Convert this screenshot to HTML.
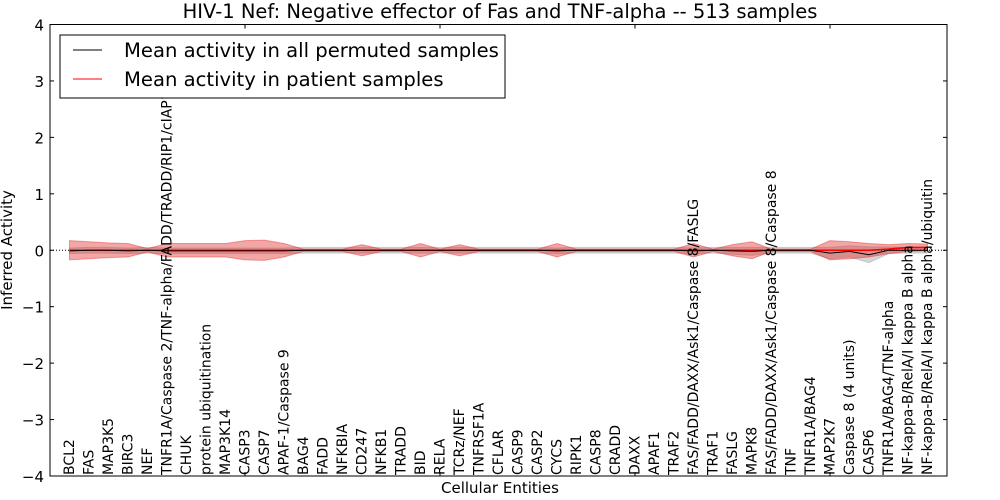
<!DOCTYPE html>
<html><head><meta charset="utf-8"><style>
html,body{margin:0;padding:0;background:#fff;}
svg{display:block;font-family:"DejaVu Sans","Liberation Sans",sans-serif;}
text{font-family:"DejaVu Sans","Liberation Sans",sans-serif;}
</style></head><body>
<svg id="chart" width="1000" height="500" viewBox="0 0 1000 500"></svg>
<script>
const categories=["BCL2","FAS","MAP3K5","BIRC3","NEF","TNFR1A/Caspase 2/TNF-alpha/FADD/TRADD/RIP1/cIAP1/TRAF2","CHUK","protein ubiquitination","MAP3K14","CASP3","CASP7","APAF-1/Caspase 9","BAG4","FADD","NFKBIA","CD247","NFKB1","TRADD","BID","RELA","TCRz/NEF","TNFRSF1A","CFLAR","CASP9","CASP2","CYCS","RIPK1","CASP8","CRADD","DAXX","APAF1","TRAF2","FAS/FADD/DAXX/Ask1/Caspase 8/FASLG","TRAF1","FASLG","MAPK8","FAS/FADD/DAXX/Ask1/Caspase 8/Caspase 8","TNF","TNFR1A/BAG4","MAP2K7","Caspase 8 (4 units)","CASP6","TNFR1A/BAG4/TNF-alpha","NF-kappa-B/RelA/I kappa B alpha","NF-kappa-B/RelA/I kappa B alpha/ubiquitin"];
const patientMean=[0,0,0,0,0,0,0,0,0,0,0,0,0,0,0,0,0,0,0,0,0,0,0,0,0,0,0,0,0,0,0,0,0,0,0,0,0,0,0,0,0,0,0.02,0.05,0.05];
const patientSpread=[0.17,0.15,0.13,0.12,0.03,0.12,0.12,0.12,0.12,0.17,0.18,0.12,0.02,0.02,0.02,0.1,0.02,0.02,0.12,0.02,0.1,0.02,0.02,0.02,0.02,0.12,0.02,0.02,0.02,0.02,0.02,0.02,0.12,0.02,0.1,0.15,0.02,0.02,0.02,0.17,0.15,0.12,0.08,0.07,0.06];
const permMean=[-0.01,0,0,-0.01,0,-0.01,-0.01,-0.01,-0.01,-0.01,-0.01,-0.01,0,0,0,0,0,0,0,0,0,0,0,0,0,-0.01,0,0,0,0,0,0,-0.01,0,-0.01,-0.02,0,0,0,-0.05,-0.02,-0.08,0,0,0];
const permSpread=[0.05,0.05,0.05,0.05,0.05,0.05,0.05,0.05,0.05,0.05,0.05,0.05,0.05,0.05,0.05,0.05,0.05,0.05,0.05,0.05,0.05,0.05,0.05,0.05,0.05,0.05,0.05,0.05,0.05,0.05,0.05,0.05,0.05,0.05,0.06,0.07,0.05,0.05,0.05,0.1,0.1,0.14,0.06,0.05,0.05];
const yTicks=[-4,-3,-2,-1,0,1,2,3,4];
const yTickLabels=["\u22124","\u22123","\u22122","\u22121","0","1","2","3","4"];
const L=50,R=947,T=24.5,B=476;
const X=i=>L+(i+1)*(R-L)/46;
const Y=v=>T+(4-v)*(B-T)/8;
const svg=document.getElementById('chart');
const NS='http://www.w3.org/2000/svg';
function mk(tag,attrs,parent){const e=document.createElementNS(NS,tag);for(const k in attrs)e.setAttribute(k,attrs[k]);(parent||svg).appendChild(e);return e;}
function band(mean,spread,fill,op,name){
  let up=mean.map((m,i)=>X(i)+','+Y(m+spread[i]));
  let dn=mean.map((m,i)=>X(i)+','+Y(m-spread[i])).reverse();
  const p=mk('polygon',{points:up.concat(dn).join(' '),fill:fill,'fill-opacity':op,stroke:fill,'stroke-opacity':op,'stroke-width':1});
  
  
}
function line(mean,col,name,w){
  const p=mk('polyline',{points:mean.map((m,i)=>X(i)+','+Y(m)).join(' '),fill:'none',stroke:col,'stroke-width':w});
  
  
}
band(permMean,permSpread,'#999999',0.4,'permuted-band');
band(patientMean,patientSpread,'#e02020',0.4,'patient-band');
const z=mk('line',{x1:L,x2:R,y1:Y(0),y2:Y(0),stroke:'#000','stroke-width':1,'stroke-dasharray':'1,2'});


line(patientMean,'#ff0000','patient-mean-line',1.6);
line(permMean,'#000','permuted-mean-line',1);
const f=mk('rect',{x:L,y:T,width:R-L,height:B-T,fill:'none',stroke:'#000','stroke-width':1});


yTicks.forEach((v,i)=>{
  const y=Y(v);
  mk('line',{x1:L,x2:L+4,y1:y,y2:y,stroke:'#000'});
  mk('line',{x1:R,x2:R-4,y1:y,y2:y,stroke:'#000'});
  const t=mk('text',{x:L-6,y:y+6,'text-anchor':'end','font-size':15});
  t.textContent=yTickLabels[i];
  
  
});
[0,10,20,30,40].forEach(v=>{
  const x=L+v*(R-L)/46;
  mk('line',{x1:x,x2:x,y1:T,y2:T+4,stroke:'#000'});
  mk('line',{x1:x,x2:x,y1:B,y2:B-4,stroke:'#000'});
});
categories.forEach((c,i)=>{
  const x=X(i)+4.5;
  const t=mk('text',{x:0,y:0,transform:'translate('+x+','+(B-1)+') rotate(-90)','font-size':14});
  t.textContent=c;
  
  
});
</script>
<svg style="position:absolute;left:0;top:0" width="1000" height="500">
<text x="500" y="18" text-anchor="middle" font-size="19.5">HIV-1 Nef: Negative effector of Fas and TNF-alpha -- 513 samples</text>
<text x="500" y="493" text-anchor="middle" font-size="15">Cellular Entities</text>
<text transform="translate(12,250) rotate(-90)" text-anchor="middle" font-size="15">Inferred Activity</text>
<g>
<rect x="60" y="35" width="445" height="63" fill="#fff" stroke="#000" stroke-width="1"/>
<line x1="73" x2="102" y1="50" y2="50" stroke="#000" stroke-width="1"/>
<text x="124" y="57" font-size="19.6">Mean activity in all permuted samples</text>
<line x1="73" x2="102" y1="79" y2="79" stroke="#f00" stroke-width="1"/>
<text x="124" y="86" font-size="19.6">Mean activity in patient samples</text>
</g>
</svg>
</body></html>
